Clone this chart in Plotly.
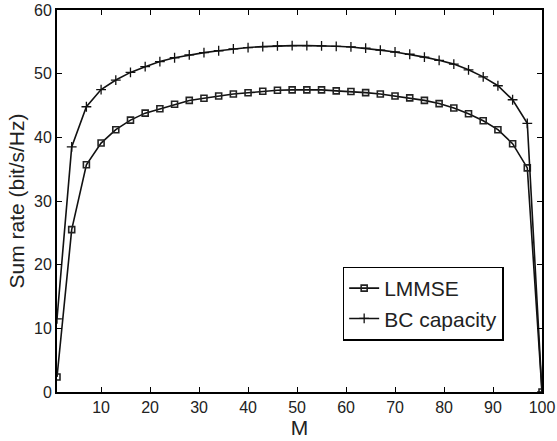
import plotly.graph_objects as go

M = [1, 4, 7, 10, 13, 16, 19, 22, 25, 28, 31, 34, 37, 40, 43, 46, 49, 52, 55, 58,
     61, 64, 67, 70, 73, 76, 79, 82, 85, 88, 91, 94, 97, 100]
lmmse = [2.35, 25.5, 35.7, 39.1, 41.2, 42.7, 43.8, 44.5, 45.2, 45.8, 46.15, 46.5, 46.8, 47.0,
         47.25, 47.4, 47.45, 47.46, 47.45, 47.3, 47.2, 47.03, 46.8, 46.5, 46.2, 45.8, 45.3,
         44.6, 43.7, 42.6, 41.2, 39.0, 35.2, 0.0]
bc = [11.5, 38.5, 44.8, 47.5, 49.0, 50.2, 51.1, 51.9, 52.5, 52.95, 53.3, 53.6, 53.9, 54.1,
      54.25, 54.38, 54.4, 54.4, 54.38, 54.3, 54.2, 54.0, 53.7, 53.4, 53.05, 52.6, 52.1,
      51.5, 50.6, 49.5, 48.1, 45.9, 42.2, 0.0]
x_ticks = [10, 20, 30, 40, 50, 60, 70, 80, 90, 100]
y_ticks = [0, 10, 20, 30, 40, 50, 60]

fig = go.Figure()
fig.add_trace(go.Scatter(x=M, y=lmmse, mode="lines+markers", name="LMMSE",
                         line=dict(color="#111", width=1.6),
                         marker=dict(symbol="square-open", size=6, color="#222",
                                     line=dict(width=1.6, color="#222"))))
fig.add_trace(go.Scatter(x=M, y=bc, mode="lines+markers", name="BC capacity",
                         line=dict(color="#111", width=1.6),
                         marker=dict(symbol="cross-thin", size=7,
                                     line=dict(width=1.3, color="#111"))))

axis_common = dict(showline=True, linecolor="black", linewidth=1.8, mirror="allticks",
                   ticks="inside", ticklen=5, tickwidth=1, tickcolor="black",
                   showgrid=False, zeroline=False, automargin=False,
                   tickfont=dict(family="Liberation Sans, Arial, sans-serif", size=16, color="#222"))

fig.update_layout(
    width=557, height=441,
    margin=dict(l=57, r=15, t=10, b=49),
    paper_bgcolor="white", plot_bgcolor="white",
    font=dict(family="Liberation Sans, Arial, sans-serif", color="#222"),
    xaxis=dict(range=[1, 100], tickvals=x_ticks,
               title=dict(text="M", font=dict(size=21), standoff=0), **axis_common),
    yaxis=dict(range=[0, 60], tickvals=y_ticks,
               title=dict(text="Sum rate (bit/s/Hz)", font=dict(size=21), standoff=4), **axis_common),
    legend=dict(x=0.589, y=0.3285, xanchor="left", yanchor="top",
                bordercolor="black", borderwidth=1.5, bgcolor="white",
                font=dict(size=21, color="#222"), tracegroupgap=0,
                itemwidth=30),
    showlegend=True,
)

fig.write_html("out.html", config={"displayModeBar": False},
               post_script="document.body.style.margin='0';")
